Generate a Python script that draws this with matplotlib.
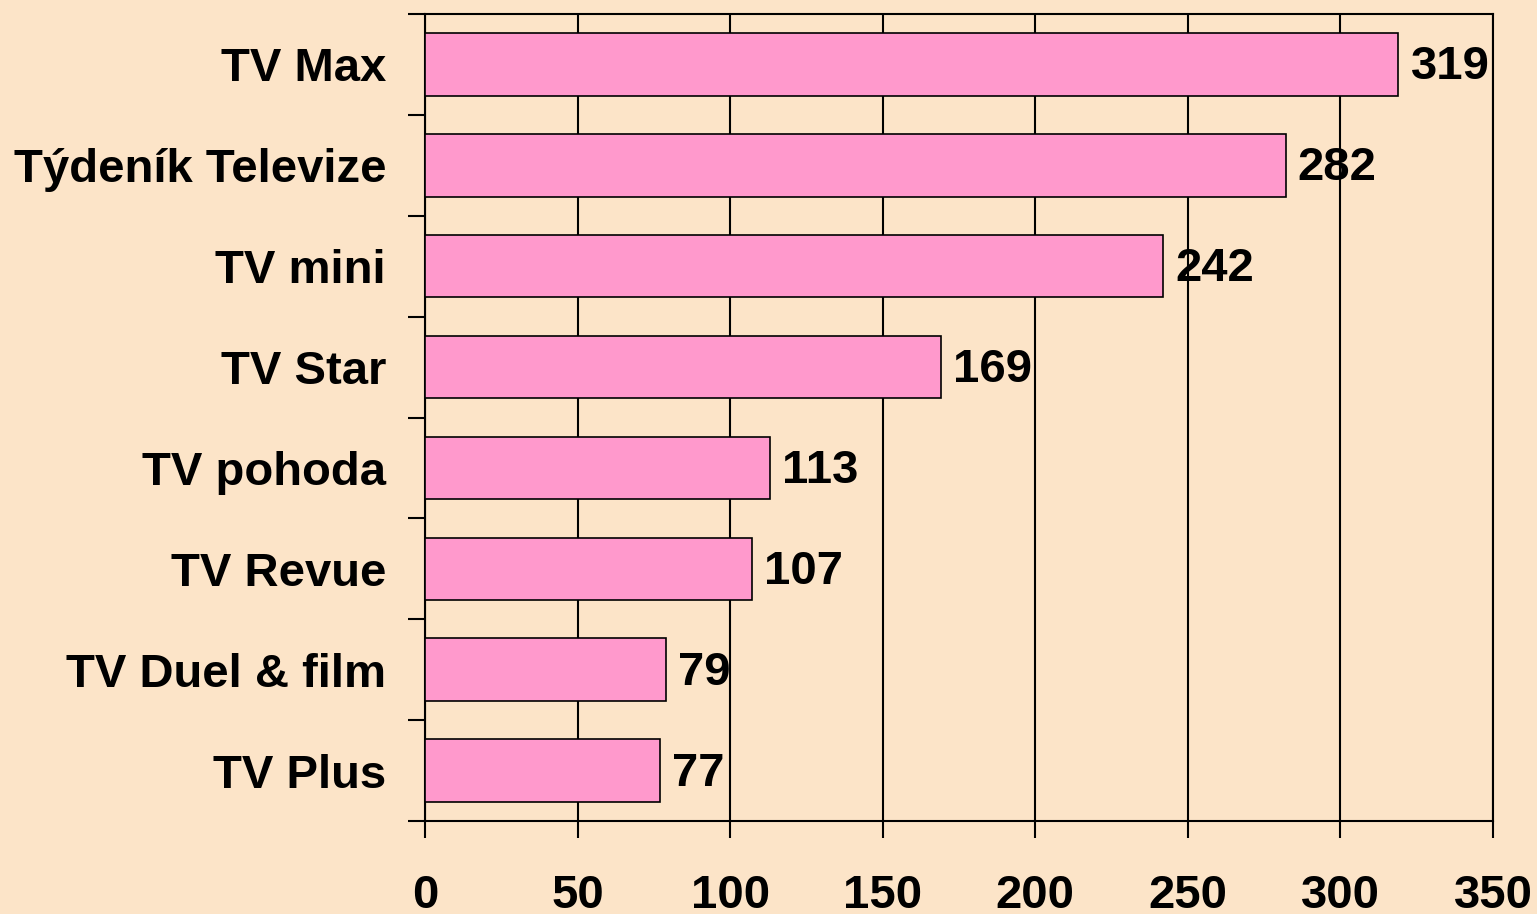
import numpy as np
import matplotlib
matplotlib.use('Agg')
import matplotlib.pyplot as plt
from matplotlib.transforms import offset_copy

# data
titles = ['TV Max', 'Týdeník Televize', 'TV mini', 'TV Star',
          'TV pohoda', 'TV Revue', 'TV Duel & film', 'TV Plus']
values = [319, 282, 242, 169, 113, 107, 79, 77]
xticks = [0, 50, 100, 150, 200, 250, 300, 350]

bg = '#FCE4C8'
plt.rcParams['font.family'] = ['Liberation Sans', 'DejaVu Sans']
plt.rcParams['font.weight'] = 'bold'

fig = plt.figure(figsize=(15.37, 9.14), dpi=100, facecolor=bg)
ax = fig.add_axes([425 / 1537, 1 - 821 / 914, (1493 - 425) / 1537, (821 - 14) / 914])
ax.set_facecolor(bg)

y = np.arange(len(titles))
ax.barh(y, values, height=0.62, color='#FF99CC', edgecolor='black', linewidth=1.2, zorder=3)

tr = offset_copy(ax.transData, fig=fig, x=0, y=-3, units='dots')
for yi, v in zip(y, values):
    ax.text(v + 4, yi, str(v), va='center', ha='left', fontsize=34,
            fontweight='bold', zorder=4, transform=tr)

ax.set_xlim(0, 350)
ax.set_ylim(len(titles) - 0.5, -0.5)
ax.set_xticks(xticks)
ax.set_xticklabels([str(t) for t in xticks], fontsize=34, fontweight='bold')
ax.xaxis.grid(True, color='black', linewidth=1.5, zorder=0)
ax.set_axisbelow(True)

# category labels between ticks, ticks at boundaries
ax.set_yticks(y)
ax.set_yticklabels(titles, fontsize=34, fontweight='bold')
ax.tick_params(axis='y', which='major', length=0, pad=28)
ax.set_yticks(np.arange(-0.5, len(titles)), minor=True)
ax.tick_params(axis='y', which='minor', length=12, width=1.5, direction='out')
ax.tick_params(axis='x', length=12, width=1.5, direction='out', pad=26)

for s in ax.spines.values():
    s.set_linewidth(1.5)
    s.set_color('black')

fig.savefig('out.png', dpi=100, facecolor=bg)
